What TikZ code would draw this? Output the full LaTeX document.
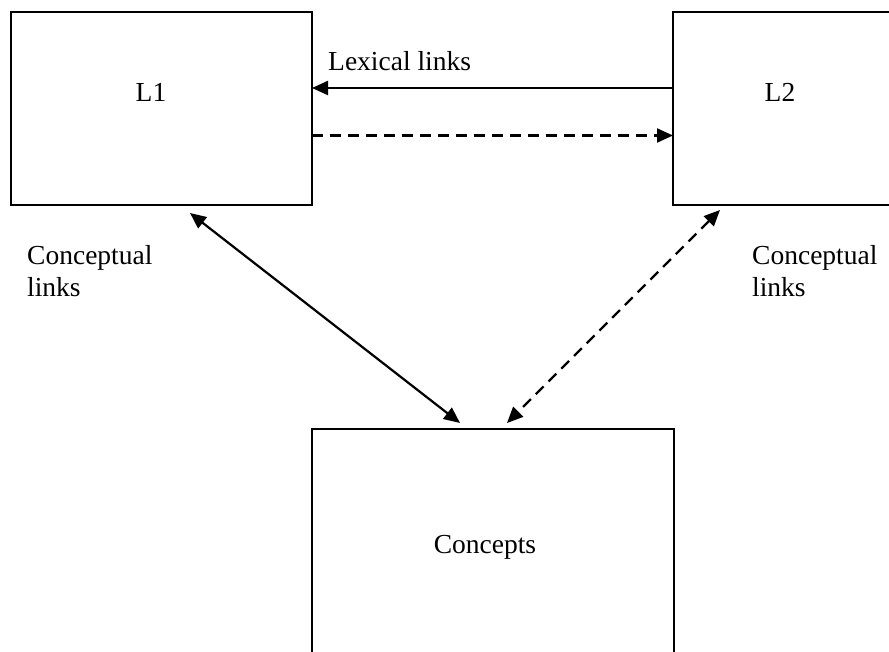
\documentclass[tikz,border=0pt]{standalone}
\usepackage{fontspec}
\setmainfont{Liberation Serif}
\usetikzlibrary{arrows.meta,calc}
\begin{document}
\begin{tikzpicture}[x=1pt,y=-1pt,
  box/.style={draw,line width=2.2pt,inner sep=0pt,outer sep=0pt},
  lbl/.style={font=\fontsize{27.5}{32}\selectfont,inner sep=0pt,align=left},
  conn/.style={line width=2.2pt,-{Triangle[length=16pt,width=14pt]}},
  bconn/.style={line width=2.2pt,{Triangle[length=16pt,width=14pt]}-{Triangle[length=16pt,width=14pt]}},
  dashpat/.style={dash pattern=on 11pt off 7pt}]
\useasboundingbox (0,0) rectangle (889,652);
\clip (0,0) rectangle (889,652);
\fill[white] (0,0) rectangle (889,652);
% boxes
\node[box,minimum width=301pt,minimum height=193pt] (L1) at (161.5,108.5) {};
\node[box,minimum width=222pt,minimum height=193pt] (L2) at (784,108.5) {};
\node[box,minimum width=362pt,minimum height=241pt] (C) at (493,549.5) {};
% texts
\node[lbl,anchor=base] (t1) at (151,102) {L1};
\node[lbl,anchor=base] (t2) at (780,102) {L2};
\node[lbl,anchor=base] (t3) at (485,553) {Concepts};
\node[lbl,anchor=base west] (lex) at (328,71) {Lexical links};
\node[lbl,anchor=north west] (cl1) at (27,245.5) {Conceptual\\links};
\node[lbl,anchor=north west] (cl2) at (752,245.5) {Conceptual\\links};
% connectors
\draw[conn] ($(L2.west)+(0,-20.5)$) -- ($(L1.east)+(0,-20.5)$);
\draw[conn,dashpat] ($(L1.east)+(0,27)$) -- ($(L2.west)+(0,27)$);
\draw[bconn] ($(L1.south)+(28.5,8)$) -- ($(C.north)+(-33,-6)$);
\draw[bconn,dashpat] ($(L2.south)+(-64,5)$) -- ($(C.north)+(14,-6)$);
\end{tikzpicture}
\end{document}
